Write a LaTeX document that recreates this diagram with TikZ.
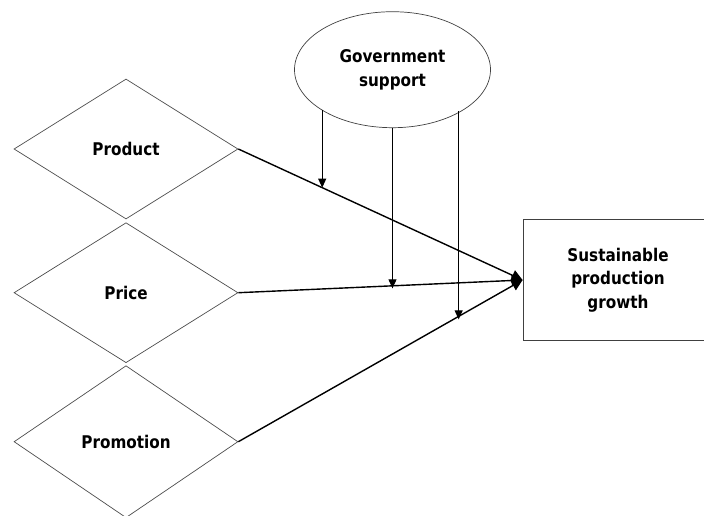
\documentclass[tikz,border=0pt]{standalone}
\usepackage{fontspec}
\newfontfamily\labelfont[FakeStretch=0.87]{DejaVu Sans}
\usetikzlibrary{shapes.geometric,arrows.meta}
\begin{document}
\begin{tikzpicture}[x=1pt,y=-1pt,
  every node/.append style={font=\labelfont\bfseries\fontsize{17.5}{23.5}\selectfont, align=center},
  factor/.style={diamond, draw=black!70, line width=0.7pt, inner sep=0pt,
    minimum width=224pt, minimum height=140pt},
  moderator/.style={ellipse, draw=black!75, line width=0.7pt, inner sep=0pt,
    minimum width=196pt, minimum height=116pt},
  outcome/.style={rectangle, draw=black!75, line width=0.8pt, inner sep=0pt,
    minimum width=190pt, minimum height=121.4pt},
  effect/.style={line width=1.4pt, -{Triangle[length=11pt,width=11pt]}},
  modarrow/.style={line width=1pt, -{Triangle[length=9pt,width=8pt]}}
]
\useasboundingbox (0,0) rectangle (704,515);

% independent factors
\node[factor] (prod) at (126,149) {Product};
\node[factor] (price) at (126,292.7) {Price};
\node[factor, minimum height=152pt] (promo) at (126,441.7) {Promotion};

% moderator and outcome
\node[moderator] (gov) at (392.5,69.7) {Government\\support};
\node[outcome] (sus) at (618,280) {Sustainable\\production\\growth};

% direct effects
\draw[effect] (prod.east) -- (sus.west) coordinate[pos=0.295] (m1);
\draw[effect] (price.east) -- (sus.west) coordinate[pos=0.54] (m2);
\draw[effect] (promo.east) -- (sus.west) coordinate[pos=0.775] (m3);

% moderating effects
\draw[modarrow] (gov.209.7 -| m1) -- (m1);
\draw[modarrow] (gov.south) -- ([yshift=-2.5pt]gov.south |- m2);
\draw[modarrow] (gov.329.3 -| m3) -- ([yshift=-3pt]m3);
\end{tikzpicture}
\end{document}
